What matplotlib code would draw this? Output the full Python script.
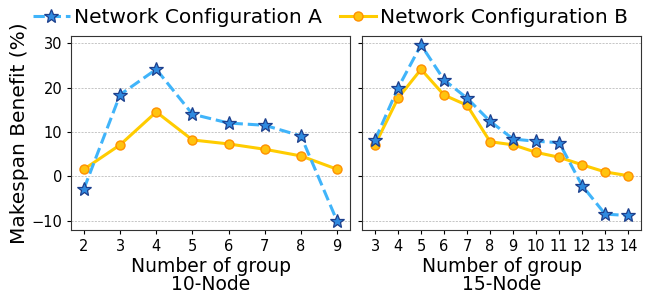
import matplotlib
matplotlib.use("Agg")
import matplotlib.pyplot as plt

# data
groups_10 = [2, 3, 4, 5, 6, 7, 8, 9]
a_10 = [-2.8, 18.4, 24.1, 14.0, 12.0, 11.5, 9.1, -10.1]
b_10 = [1.6, 7.1, 14.5, 8.2, 7.3, 6.1, 4.6, 1.6]

groups_15 = [3, 4, 5, 6, 7, 8, 9, 10, 11, 12, 13, 14]
a_15 = [8.2, 19.9, 29.6, 21.7, 17.6, 12.4, 8.4, 7.9, 7.6, -2.1, -8.5, -8.8]
b_15 = [7.1, 17.6, 24.1, 18.3, 16.0, 7.8, 7.1, 5.4, 4.3, 2.6, 1.0, 0.15]

panel_titles = ["10-Node", "15-Node"]
series_names = ["Network Configuration A", "Network Configuration B"]

BLUE_LINE = "#40b4fa"; BLUE_FACE = "#2f8ae0"; BLUE_EDGE = "#1d3f8c"
GOLD_LINE = "#ffcc00"; GOLD_FACE = "#ffc30f"; GOLD_EDGE = "#ff9100"

fig, axes = plt.subplots(1, 2, figsize=(6.48, 3.08), dpi=100, sharey=True)
fig.subplots_adjust(left=0.110, right=0.989, top=0.883, bottom=0.253, wspace=0.045)

panels = [(groups_10, a_10, b_10), (groups_15, a_15, b_15)]
for ax, (xs, a, b), title in zip(axes, panels, panel_titles):
    ax.plot(xs, a, linestyle="--", color=BLUE_LINE, linewidth=2.2,
            marker="*", markersize=10.5, markerfacecolor=BLUE_FACE,
            markeredgecolor=BLUE_EDGE, markeredgewidth=0.9,
            label=series_names[0], zorder=3)
    ax.plot(xs, b, linestyle="-", color=GOLD_LINE, linewidth=2.2,
            marker="o", markersize=6.5, markerfacecolor=GOLD_FACE,
            markeredgecolor=GOLD_EDGE, markeredgewidth=1.0,
            label=series_names[1], zorder=2)
    ax.set_xticks(xs)
    ax.tick_params(axis="both", labelsize=10.5, length=3)
    ax.set_xlabel(f"Number of group\n{title}", fontsize=13.5, linespacing=0.95, labelpad=2)
    ax.grid(axis="y", linestyle=(0, (2.5, 1.5)), color="#bdbdbd", linewidth=0.6)
    ax.set_axisbelow(True)
    for s in ax.spines.values():
        s.set_color("#333333")

axes[0].set_yticks([-10, 0, 10, 20, 30])
axes[0].set_ylabel("Makespan Benefit (%)", fontsize=14.5, labelpad=2)

handles, labels = axes[0].get_legend_handles_labels()
fig.legend(handles, labels, loc="upper center", ncol=2, frameon=False,
           fontsize=14.5, bbox_to_anchor=(0.51, 1.02), handlelength=1.8,
           handletextpad=0.2, columnspacing=0.9, borderaxespad=0.3)

plt.savefig("out.png", dpi=100)
